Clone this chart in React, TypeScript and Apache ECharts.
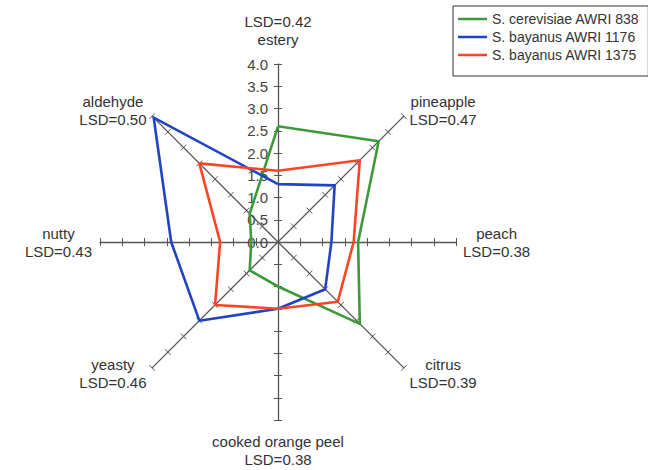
import React, { useEffect, useRef } from "react";
import * as echarts from "echarts";

const categories = ["estery", "pineapple", "peach", "citrus", "cooked orange peel", "yeasty", "nutty", "aldehyde"];
const lsd = ["0.42", "0.47", "0.38", "0.39", "0.38", "0.46", "0.43", "0.50"];
const seriesNames = ["S. cerevisiae AWRI 838", "S. bayanus AWRI 1176", "S. bayanus AWRI 1375"];
const cerevisiae838 = [2.6, 3.2, 1.8, 2.6, 1.0, 0.9, 0.6, 0.9];
const bayanus1176 = [1.3, 1.8, 1.2, 1.5, 1.5, 2.5, 2.4, 3.95];
const bayanus1375 = [1.6, 2.6, 1.7, 1.9, 1.5, 2.0, 1.3, 2.5];
const seriesColors = ["#3c9a3a", "#2243c4", "#ff4426"];
const axisMax = 4;
const nameGaps = [16, 8, 7, 8, 12, 8, 8, 8];

export default function App() {
  const ref = useRef<HTMLDivElement>(null);
  useEffect(() => {
    if (!ref.current) return;
    const chart = echarts.init(ref.current, null, { renderer: "svg" });
    const values = [cerevisiae838, bayanus1176, bayanus1375];
    // ECharts radar runs counter-clockwise; reorder so the categories go clockwise
    const order = [0, 7, 6, 5, 4, 3, 2, 1];
    const font = "'Liberation Sans', Arial, sans-serif";
    const indicators = order.map((i, pos) => {
      const ind: any = { name: categories[i], max: axisMax, min: 0, nameGap: nameGaps[i] };
      if (pos === 0) ind.axisLabel = { show: true };
      return ind;
    });
    const tickOnly = order.map(() => ({ name: "", max: axisMax, min: 0 }));
    chart.setOption({
      animation: false,
      backgroundColor: "#ffffff",
      legend: {
        orient: "vertical",
        left: 453,
        top: 6,
        padding: [6, 9, 14, 5],
        borderColor: "#333",
        borderWidth: 1,
        itemWidth: 29,
        itemHeight: 2.5,
        itemGap: 4,
        itemTextGap: 2,
        icon: "rect",
        textStyle: { fontFamily: font, fontSize: 14, color: "#333" },
        data: seriesNames,
      },
      radar: [
        {
          center: [278, 242],
          radius: 178,
          startAngle: 90,
          splitNumber: 8,
          shape: "polygon",
          indicator: indicators,
          axisName: {
            color: "#333",
            fontFamily: font,
            fontSize: 15,
            lineHeight: 18,
            formatter: (name: string) => {
              const i = categories.indexOf(name);
              return i === 0
                ? `{c|LSD=${lsd[i]}}\n{c|${name}}`
                : `{c|${name}}\n{c|LSD=${lsd[i]}}`;
            },
            rich: { c: { align: "center", fontFamily: font, fontSize: 15, lineHeight: 18, color: "#333" } },
          },
          axisLine: { show: true, lineStyle: { color: "#555", width: 1.3 } },
          axisTick: { show: true, length: 4, lineStyle: { color: "#555", width: 1 } },
          axisLabel: {
            show: false,
            fontFamily: font,
            fontSize: 15,
            color: "#444",
            margin: 10,
            formatter: (v: number) => v.toFixed(1),
          },
          splitLine: { show: false },
          splitArea: { show: false },
        },
        {
          center: [278, 242],
          radius: 178,
          startAngle: 90,
          splitNumber: 8,
          shape: "polygon",
          indicator: tickOnly,
          axisName: { show: false },
          axisLine: { show: false },
          axisTick: { show: true, length: -4, lineStyle: { color: "#555", width: 1 } },
          axisLabel: { show: false },
          splitLine: { show: false },
          splitArea: { show: false },
        },
      ],
      series: [
        {
          type: "radar",
          radarIndex: 0,
          symbol: "none",
          data: seriesNames.map((n, k) => ({
            name: n,
            value: order.map((i) => values[k][i]),
            lineStyle: { color: seriesColors[k], width: 2.6 },
            itemStyle: { color: seriesColors[k] },
          })),
        },
      ],
    });
    return () => chart.dispose();
  }, []);
  return (
    <div
      ref={ref}
      style={{ position: "absolute", left: 0, top: 0, width: 648, height: 470, background: "#fff" }}
    />
  );
}
